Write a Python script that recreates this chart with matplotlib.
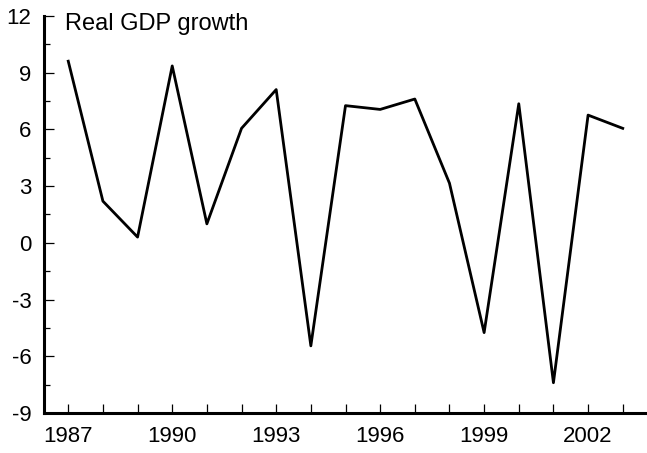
import matplotlib.pyplot as plt
from matplotlib.ticker import MultipleLocator

years = list(range(1987, 2004))
gdp_growth = [9.6, 2.2, 0.3, 9.35, 1.0, 6.05, 8.1, -5.45, 7.25, 7.05, 7.6,
              3.15, -4.75, 7.35, -7.4, 6.75, 6.05]
y_ticks = [-9, -6, -3, 0, 3, 6, 9, 12]
x_ticks = [1987, 1990, 1993, 1996, 1999, 2002]

plt.rcParams['font.family'] = ['Liberation Sans', 'DejaVu Sans']
plt.rcParams['axes.unicode_minus'] = False

fig = plt.figure(figsize=(6.47, 4.53), dpi=100)
ax = fig.add_axes([44 / 647, 1 - 413 / 453, 1 - 44 / 647, (413 - 15.8) / 453])

ax.plot(years, gdp_growth, color='black', linewidth=2.0)

ax.set_xlim(1986.3, 2003.7)
ax.set_ylim(-9, 12)
ax.set_yticks(y_ticks)
ax.set_xticks(x_ticks)
ax.yaxis.set_minor_locator(MultipleLocator(1.5))
ax.xaxis.set_minor_locator(MultipleLocator(1))

for side in ['top', 'right']:
    ax.spines[side].set_visible(False)
for side in ['left', 'bottom']:
    ax.spines[side].set_linewidth(2.2)

ax.tick_params(axis='both', which='both', direction='in', width=0.9, labelsize=16)
ax.tick_params(axis='y', which='major', length=7, pad=9)
ax.tick_params(axis='y', which='minor', length=4.3)
ax.tick_params(axis='x', which='both', length=6.5, pad=9)

ax.text(1986.9, 11.25, 'Real GDP growth', fontsize=17, ha='left', va='baseline')

fig.savefig('out.png', dpi=100)
